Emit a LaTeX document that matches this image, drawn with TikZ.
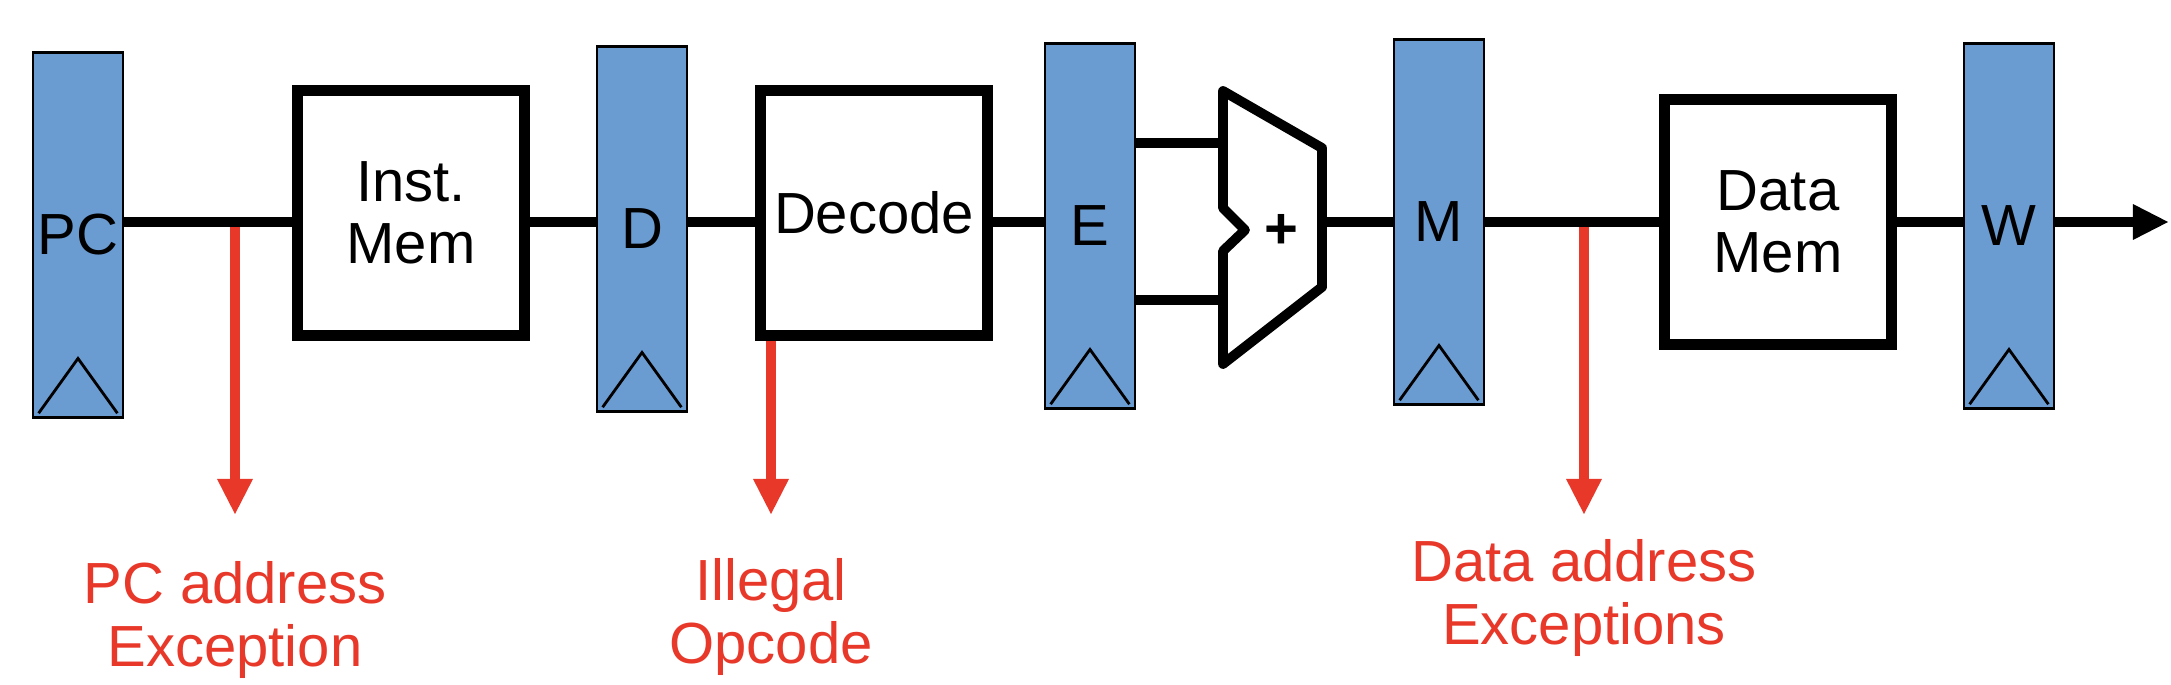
\documentclass[tikz,border=0pt]{standalone}
\usepackage{fontspec}
\setmainfont{Liberation Sans}
\usetikzlibrary{arrows.meta}

\definecolor{regblue}{RGB}{106,155,209}
\definecolor{excred}{RGB}{232,56,42}

\tikzset{
  reg/.style={draw, line width=0.8pt, fill=regblue, minimum width=0.9cm, minimum height=3.64cm, inner sep=0pt},
  unit/.style={draw, line width=3.1pt, fill=white, minimum width=2.27cm, minimum height=2.44cm, align=center, inner sep=0pt},
  bus/.style={line width=3.1pt},
  clk/.style={line width=0.8pt},
  exc/.style={excred, line width=3.1pt, -{Triangle[width=0.33cm,length=0.36cm]}},
  exclabel/.style={excred, align=center, anchor=north, inner sep=0pt}
}

\begin{document}
\begin{tikzpicture}[x=0.01cm, y=-0.01cm, font=\fontsize{16.5}{17.8}\selectfont]
  \useasboundingbox (0,0) rectangle (2171,685);
  \coordinate (bus) at (0,222);

  % pipeline registers and units
  \node[reg] (pc) at (78,235) {PC};
  \node[unit] (imem) at (411,213) {Inst.\\Mem};
  \node[reg] (d) at (642,229) {D};
  \node[unit] (decode) at (874,213) {Decode};
  \node[reg] (e) at (1090,226) {E};
  \node[reg] (m) at (1439,222) {M};
  \node[unit] (dmem) at (1778,222) {Data\\Mem};
  \node[reg] (w) at (2009,226) {W};

  \foreach \r in {pc,d,e,m,w}
    \draw[clk] ([xshift=2pt,yshift=1.5pt]\r.south west) -- ([yshift=0.6cm]\r.south) -- ([xshift=-2pt,yshift=1.5pt]\r.south east);

  % adder
  \draw[line width=2.8pt, line join=round, fill=white] (1223,91) -- (1322,148) -- (1322,287) -- (1223,364)
    -- (1223,251) -- (1245,230) -- (1223,208) -- cycle;
  \node (plus) at (1281,231) {\textbf{+}};
  \coordinate (ina) at (1223,143);
  \coordinate (inb) at (1223,300);
  \coordinate (addout) at (1322,222);
  \coordinate (out) at (2169,222);

  % exceptions
  \coordinate (pcexc) at (235,515);
  \coordinate (decexc) at (771,515);
  \coordinate (dexc) at (1584,515);
  \node[exclabel] (pclbl) at (235,561) {PC address\\Exception};
  \node[exclabel] (declbl) at (771,558) {Illegal\\Opcode};
  \node[exclabel] (dlbl) at (1584,539) {Data address\\Exceptions};
  \draw[exc] (pcexc |- bus) -- (pcexc);
  \draw[exc] (decexc |- decode.south) -- (decexc);
  \draw[exc] (dexc |- bus) -- (dexc);

  \path[every edge/.style={draw, bus}]
    (pc.east |- bus) edge (imem.west |- bus)
    (imem.east |- bus) edge (d.west |- bus)
    (d.east |- bus) edge (decode.west |- bus)
    (decode.east |- bus) edge (e.west |- bus)
    (e.east |- ina) edge (ina)
    (e.east |- inb) edge (inb)
    (addout) edge (m.west |- bus)
    (m.east |- bus) edge (dmem.west |- bus)
    (dmem.east |- bus) edge (w.west |- bus);
  \draw[bus, -{Triangle[width=0.33cm,length=0.36cm]}] (w.east |- bus) -- (out);
\end{tikzpicture}
\end{document}
